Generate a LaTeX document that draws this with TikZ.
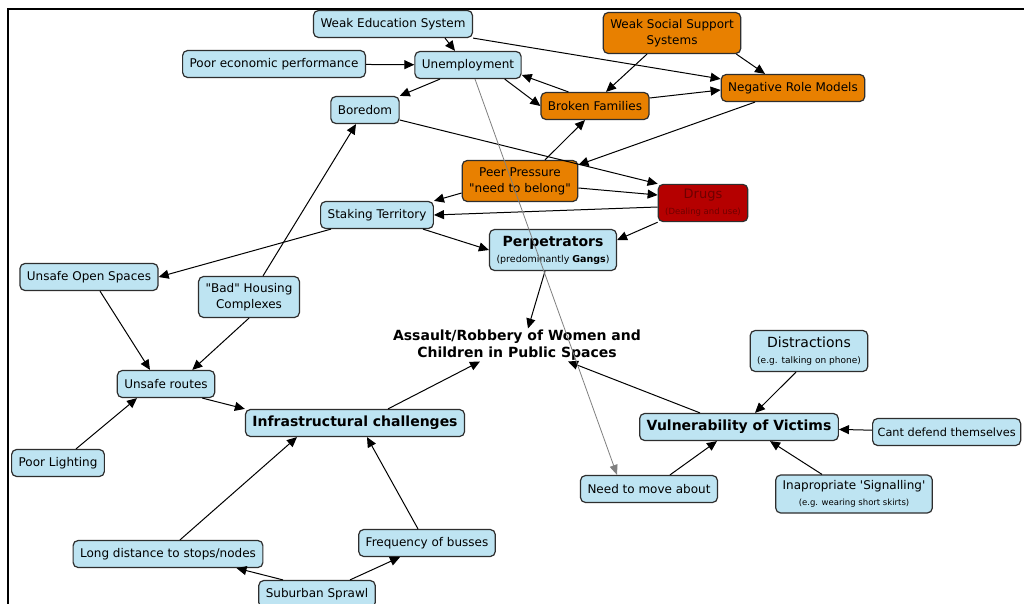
\documentclass[tikz,border=0pt]{standalone}
\usepackage{fontspec}
\setmainfont{DejaVu Sans}
\usepackage{tikz}
\usetikzlibrary{positioning,shapes,arrows.meta}
\definecolor{conceptblue}{HTML}{BEE4F2}
\definecolor{conceptorange}{HTML}{E88000}
\definecolor{drugred}{HTML}{B50000}
\definecolor{drugtext}{HTML}{6E0000}
\definecolor{borderline}{HTML}{2E2E2E}
\tikzstyle{concept} = [rectangle, rounded corners=5pt, draw=borderline, line width=1.2pt, fill=conceptblue, inner xsep=7pt, inner ysep=5pt, minimum height=27pt, align=center, font=\fontsize{12}{16}\selectfont]
\tikzstyle{twoline} = [minimum height=41pt]
\tikzstyle{hot} = [concept, fill=conceptorange]
\tikzstyle{danger} = [concept, fill=drugred, text=drugtext]
\tikzstyle{arrow} = [line width=1pt, -{Triangle[length=10pt,width=9pt]}]
\tikzstyle{faint} = [line width=0.8pt, draw=gray, -{Triangle[length=10pt,width=8pt]}, gray]

\begin{document}
\begin{tikzpicture}[x=1pt, y=-1pt]
\useasboundingbox[fill=white] (0,0) rectangle (1024,604);
\draw[line width=1.5pt] (8,604) -- (8,9) -- (1024,9);

% causes at the top
\node[concept] (weakedu) at (393,24) {Weak Education System};
\node[concept] (econ) at (274,64) {Poor economic performance};
\node[concept] (unemp) at (468,65) {Unemployment};
\node[concept] (boredom) at (365,110) {Boredom};
\node[hot, twoline] (social) at (672,33) {Weak Social Support\\Systems};
\node[hot] (rolemodels) at (793,88) {Negative Role Models};
\node[hot] (broken) at (595,106) {Broken Families};
\node[hot, twoline] (peer) at (520,181) {Peer Pressure\\\textquotedbl need to belong\textquotedbl};
\node[danger, twoline, minimum height=37pt] (drugs) at (703,203) {{\fontsize{13}{14}\selectfont Drugs}\\{\fontsize{8.5}{10}\selectfont (Dealing and use)}};
\node[concept] (staking) at (377,215) {Staking Territory};
\node[concept, twoline] (perps) at (553,250) {{\bfseries\fontsize{14}{16}\selectfont Perpetrators}\\{\fontsize{9.5}{12}\selectfont (predominantly \textbf{Gangs})}};
\node[concept] (openspaces) at (89,277) {Unsafe Open Spaces};
\node[concept, twoline] (housing) at (249,297) {\textquotedbl Bad\textquotedbl\ Housing\\Complexes};

% centre
\node[font=\bfseries\fontsize{14}{17}\selectfont, align=center, inner sep=1pt] (assault) at (517,345) {Assault/Robbery of Women and\\Children in Public Spaces};

% infrastructure side
\node[concept] (routes) at (166,384) {Unsafe routes};
\node[concept, font=\bfseries\fontsize{14}{16}\selectfont] (infra) at (355,423) {Infrastructural challenges};
\node[concept] (lighting) at (58,463) {Poor Lighting};
\node[concept] (distance) at (168,554) {Long distance to stops/nodes};
\node[concept] (busses) at (427,543) {Frequency of busses};
\node[concept] (sprawl) at (317,594) {Suburban Sprawl};

% victims side
\node[concept, twoline] (distract) at (809,351) {{\fontsize{14}{15}\selectfont Distractions}\\{\fontsize{9}{11}\selectfont (e.g. talking on phone)}};
\node[concept, font=\bfseries\fontsize{14}{16}\selectfont] (victims) at (739,427) {Vulnerability of Victims};
\node[concept, anchor=west, inner xsep=5pt, font=\fontsize{11.3}{14}\selectfont] (defend) at (872,432) {Cant defend themselves};
\node[concept] (moveabout) at (649,489) {Need to move about};
\node[concept, twoline, minimum height=38pt] (signalling) at (854,494) {Inapropriate \textquotesingle Signalling\textquotesingle\\{\fontsize{8.5}{10}\selectfont (e.g. wearing short skirts)}};

\draw[arrow] ([xshift=52pt]weakedu.south) -- ([xshift=-13pt]unemp.north);
\draw[arrow] (weakedu.south east) -- ([yshift=-5pt]rolemodels.north west);
\draw[arrow] (econ) -- (unemp);
\draw[arrow] ([xshift=-28pt]unemp.south) -- (boredom.north east);
\draw[arrow] ([xshift=-17pt]unemp.south east) -- (broken.west);
\draw[arrow] ([xshift=28pt]broken.north west) -- ([yshift=-10pt]unemp.east);
\draw[arrow] ([xshift=-25pt]social.south) -- ([xshift=11pt]broken.north);
\draw[arrow] ([xshift=-5pt]social.south east) -- ([xshift=-28pt]rolemodels.north);
\draw[arrow] ([yshift=8pt]broken.east) -- ([yshift=-2pt]rolemodels.west);
\draw[arrow] ([xshift=-38pt]rolemodels.south) -- ([yshift=-5pt]peer.north east);
\draw[arrow] ([xshift=25pt]peer.north) -- ([xshift=-10pt]broken.south);
\draw[arrow] ([yshift=-10pt]boredom.east) -- (drugs.north west);
\draw[arrow] ([yshift=-7pt]peer.east) -- ([yshift=8pt]drugs.west);
\draw[arrow] ([yshift=-12pt]peer.west) -- (staking.north east);
\draw[arrow] ([yshift=-4pt]drugs.west) -- (staking.east);
\draw[arrow] (drugs.south west) -- ([yshift=10pt]perps.east);
\draw[arrow] ([xshift=-11pt]staking.south east) -- (perps.west);
\draw[arrow] ([xshift=11pt]staking.south west) -- (openspaces.east);
\draw[arrow] ([xshift=14pt]housing.north) -- ([xshift=-9pt]boredom.south);
\draw[arrow] ([xshift=11pt]openspaces.south) -- ([xshift=-16pt]routes.north);
\draw[arrow] (housing.south) -- ([xshift=-23pt]routes.north east);
\draw[arrow] ([xshift=18pt]lighting.north) -- ([xshift=-29pt]routes.south);
\draw[arrow] ([xshift=-13pt]routes.south east) -- (infra.north west);
\draw[arrow] ([xshift=33pt]infra.north) -- ([xshift=-37pt]assault.south);
\draw[arrow] ([xshift=-8pt]perps.south) -- ([xshift=11pt]assault.north);
\draw[arrow] ([xshift=-39pt]victims.north) -- ([xshift=51pt]assault.south);
\draw[arrow] ([xshift=12pt]distance.north) -- ([xshift=-58pt]infra.south);
\draw[arrow] ([xshift=-9pt]busses.north) -- ([xshift=12pt]infra.south);
\draw[arrow] ([xshift=-34pt]sprawl.north) -- ([xshift=-27pt]distance.south east);
\draw[arrow] ([xshift=33pt]sprawl.north) -- ([xshift=-27pt]busses.south);
\draw[arrow] ([xshift=-13pt]distract.south) -- ([xshift=16pt]victims.north);
\draw[arrow] (defend) -- (victims);
\draw[arrow] ([xshift=21pt]moveabout.north) -- ([xshift=-22pt]victims.south);
\draw[arrow] ([xshift=-32pt]signalling.north) -- ([xshift=31pt]victims.south);
\draw[faint] ([xshift=7pt]unemp.south) -- ([xshift=-32pt]moveabout.north);
\end{tikzpicture}
\end{document}
